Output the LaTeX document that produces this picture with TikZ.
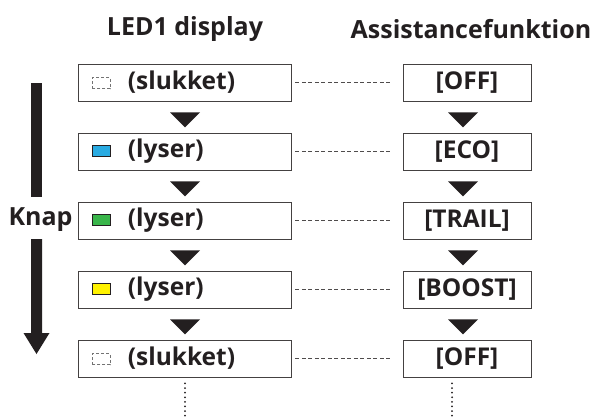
\documentclass[tikz,border=0pt]{standalone}
\usepackage{fontspec}
\setmainfont{Open Sans}
\usetikzlibrary{calc}
\definecolor{ink}{HTML}{231F20}
\definecolor{ledblue}{HTML}{29ABE2}
\definecolor{ledgreen}{HTML}{39B54A}
\definecolor{ledyellow}{HTML}{FFF200}
\newcommand{\ledsq}[1]{\tikz[baseline=-1pt]\draw[ink,line width=0.9pt,fill=#1](0,0) rectangle (18pt,11pt);}
\newcommand{\ledoff}{\tikz[baseline=-1pt]\draw[black!55,line width=0.8pt,dash pattern=on 3pt off 2pt](0,0) rectangle (18pt,11pt);}
\tikzset{
  ledbox/.style={draw=ink!85,line width=0.9pt,minimum height=37pt,text width=185pt,inner xsep=14pt,inner ysep=0pt,align=left,font=\bfseries\fontsize{24.5}{28}\selectfont,text=ink},
  funbox/.style={draw=ink!85,line width=0.9pt,minimum height=37pt,minimum width=128pt,inner sep=0pt,font=\bfseries\fontsize{24.5}{28}\selectfont,text=ink},
  head/.style={font=\bfseries\fontsize{25}{28}\selectfont,text=ink},
  link/.style={ink!80,line width=0.7pt,dash pattern=on 4pt off 2.5pt},
  dots/.style={ink,line width=2pt,line cap=round,dash pattern=on 0pt off 4.6pt},
}
\begin{document}
\begin{tikzpicture}[x=1pt,y=-1pt]
\useasboundingbox (0,0) rectangle (594,417);
\node[head] (h1) at (185,29) {LED1 display};
\node[head] (h2) at (471,29) {Assistancefunktion};
\foreach \i/\y/\sq/\lab/\fun in {1/82.5/\ledoff/(slukket)/[OFF],2/151.5/\ledsq{ledblue}/(lyser)/[ECO],3/220.5/\ledsq{ledgreen}/(lyser)/[TRAIL],4/289.5/\ledsq{ledyellow}/(lyser)/[BOOST],5/358.5/\ledoff/(slukket)/[OFF]}{
  \node[ledbox] (l\i) at (184.5,\y) {\sq\hspace{17pt}\lab};
  \node[funbox] (r\i) at (467,\y) {\fun};
  \draw[link] ($(l\i.east)+(4,0)$) -- ($(r\i.west)+(-11,0)$);
}
\foreach \a/\b in {1/2,2/3,3/4,4/5}{
  \fill[ink] ($(l\a.south)+(0.5,11)$) coordinate (lt\a) -- ++(-15,0) -- ++(15,15) -- ++(15,-15) -- cycle;
  \fill[ink] ($(r\a.south)+(-4,11)$) -- ++(-15,0) -- ++(15,15) -- ++(15,-15) -- cycle;
}
% Knap arrow
\node[font=\bfseries\fontsize{25}{28}\selectfont,text=ink,inner sep=0pt] (knap) at (40.5,220) {Knap};
\coordinate (atop) at (36.5,83);
\coordinate (abot) at (36.5,239);
\coordinate (atip) at (36.5,354);
\fill[ink] ($(atop)+(-5.5,0)$) rectangle (42,197);
\fill[ink] ($(abot)+(-5.5,0)$) -- ($(abot)+(5.5,0)$) -- ($(atip)+(5.5,-21)$) -- ($(atip)+(13,-21)$) -- (atip) -- ($(atip)+(-13,-21)$) -- ($(atip)+(-5.5,-21)$) -- cycle;
% continuation dots
\coordinate (d1) at (185,417);
\coordinate (d2) at (452,417);
\draw[dots] ($(l5.south)+(0.5,6)$) -- (d1);
\draw[dots] ($(r5.south)+(-15,6)$) -- (d2);
\end{tikzpicture}
\end{document}
